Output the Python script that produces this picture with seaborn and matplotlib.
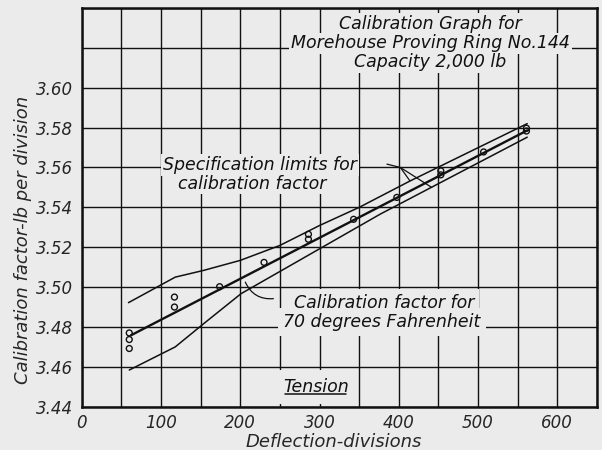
import numpy as np
import pandas as pd
import matplotlib
matplotlib.use('Agg')
import matplotlib.pyplot as plt
from matplotlib.lines import Line2D
import seaborn as sns

# ---------------------------------------------------------------------------
# DATA
# ---------------------------------------------------------------------------
# observed calibration factors
pts_x = [60, 60, 60, 117, 117, 174, 230, 286, 286, 343, 397.5, 453, 453, 507, 561, 561]
pts_y = [3.4770, 3.4737, 3.4692, 3.4950, 3.4900, 3.5002, 3.5124, 3.5265, 3.5240,
         3.5340, 3.5450, 3.5583, 3.5563, 3.5678, 3.5797, 3.5783]

# calibration factor for 70 degrees Fahrenheit (straight fit)
fit_x = [62, 562]
fit_y = [3.4758, 3.5786]

# specification limits
upper_x = [59, 118, 154, 200, 250, 300, 350, 414, 562]
upper_y = [3.4922, 3.5050, 3.5084, 3.5134, 3.5209, 3.5309, 3.5400, 3.5532, 3.5820]
lower_x = [60, 118, 154, 201, 377, 562]
lower_y = [3.4584, 3.4700, 3.4817, 3.4967, 3.5367, 3.5752]

# axes
x_grid = [0, 50, 100, 150, 200, 250, 300, 350, 400, 450, 500, 550, 600, 650]
x_labels = ['0', '', '100', '', '200', '', '300', '', '400', '', '500', '', '600', '']
y_grid = [3.44, 3.46, 3.48, 3.50, 3.52, 3.54, 3.56, 3.58, 3.60, 3.62, 3.64]
y_labels = ['3.44', '3.46', '3.48', '3.50', '3.52', '3.54', '3.56', '3.58', '3.60', '', '']

title_lines = ['Calibration Graph for', 'Morehouse Proving Ring No.144', 'Capacity 2,000 lb']
title_y = [3.6322, 3.6222, 3.6127]

BG = '#ebebeb'
INK = '#111111'

# ---------------------------------------------------------------------------
# STYLE
# ---------------------------------------------------------------------------
sns.set_theme(style='white')
plt.rcParams['font.family'] = ['DejaVu Sans']
plt.rcParams['font.style'] = 'italic'
plt.rcParams['text.color'] = INK

fig = plt.figure(figsize=(6.02, 4.5), dpi=100, facecolor=BG)
ax = fig.add_axes([0.1357, 0.0962, 0.856, 0.886])
ax.set_facecolor(BG)

# ---------------------------------------------------------------------------
# CURVES AND POINTS
# ---------------------------------------------------------------------------
sns.lineplot(x=upper_x, y=upper_y, ax=ax, color=INK, linewidth=1.1, sort=False, estimator=None)
sns.lineplot(x=lower_x, y=lower_y, ax=ax, color=INK, linewidth=1.1, sort=False, estimator=None)
sns.lineplot(x=fit_x, y=fit_y, ax=ax, color=INK, linewidth=1.7, sort=False, estimator=None)
sns.scatterplot(x=pts_x, y=pts_y, ax=ax, marker='o', s=18, facecolor='none',
                edgecolor=INK, linewidth=1.0, zorder=4)

# ---------------------------------------------------------------------------
# AXES, GRID
# ---------------------------------------------------------------------------
ax.set_xlim(0, 650)
ax.set_ylim(3.44, 3.64)
ax.set_xticks(x_grid)
ax.set_xticklabels(x_labels, fontsize=12)
ax.set_yticks(y_grid)
ax.set_yticklabels(y_labels, fontsize=12)
ax.tick_params(length=0)
ax.tick_params(axis='y', pad=6.5)
ax.tick_params(axis='x', pad=5.5)
ax.grid(True, color=INK, linewidth=1.0)
ax.set_axisbelow(True)
for s in ax.spines.values():
    s.set_visible(True)
    s.set_color(INK)
    s.set_linewidth(1.8)

ax.set_xlabel('Deflection-divisions', fontsize=13, va='center')
ax.xaxis.set_label_coords(0.49, -0.088)
ax.set_ylabel('Calibration factor-lb per division', fontsize=13, va='center')
ax.yaxis.set_label_coords(-0.114, 0.418)

# ---------------------------------------------------------------------------
# LETTERING (boxes break the grid like on the original drawing)
# ---------------------------------------------------------------------------
FS = 12.5
box = dict(boxstyle='square,pad=0.1', fc=BG, ec='none')
wide_box = dict(boxstyle='square,pad=0.3', fc=BG, ec='none')

for line, yy in zip(title_lines, title_y):
    ax.text(440, yy, line, ha='center', va='center', fontsize=FS, bbox=box, zorder=3)

ax.text(225, 3.5613, 'Specification limits for', ha='center', va='center',
        fontsize=FS, bbox=box, zorder=3)
ax.text(215.6, 3.5519, 'calibration factor', ha='center', va='center',
        fontsize=FS, bbox=box, zorder=3)
ax.text(381, 3.4920, 'Calibration factor for', ha='center', va='center',
        fontsize=FS, bbox=wide_box, zorder=3)
ax.text(378.4, 3.4825, '70 degrees Fahrenheit', ha='center', va='center',
        fontsize=FS, bbox=wide_box, zorder=3)
tension = ax.text(296, 3.4500, 'Tension', ha='center', va='center', fontsize=FS,
                  bbox=dict(boxstyle='square,pad=0.45', fc=BG, ec='none'), zorder=3)

# leader lines
lead = dict(arrowstyle='-', color=INK, lw=0.9, shrinkA=0, shrinkB=0)
ax.annotate('', xy=(402, 3.5600), xytext=(385, 3.5617), arrowprops=lead)
ax.annotate('', xy=(414, 3.5533), xytext=(402, 3.5600), arrowprops=lead)
ax.annotate('', xy=(441.5, 3.5500), xytext=(402, 3.5600), arrowprops=lead)
ax.annotate('', xy=(241.8, 3.4942), xytext=(206.4, 3.5025),
            arrowprops=dict(lead, connectionstyle='arc3,rad=0.35'))

# underline "Tension"
fig.canvas.draw()
bb = tension.get_window_extent().transformed(fig.transFigure.inverted())
fig.add_artist(Line2D([bb.x0 + 0.002, bb.x1 - 0.006], [bb.y0 + 0.004, bb.y0 + 0.004],
                      color=INK, lw=1.1))

plt.savefig('out.png', dpi=100, facecolor=BG)
plt.close()
